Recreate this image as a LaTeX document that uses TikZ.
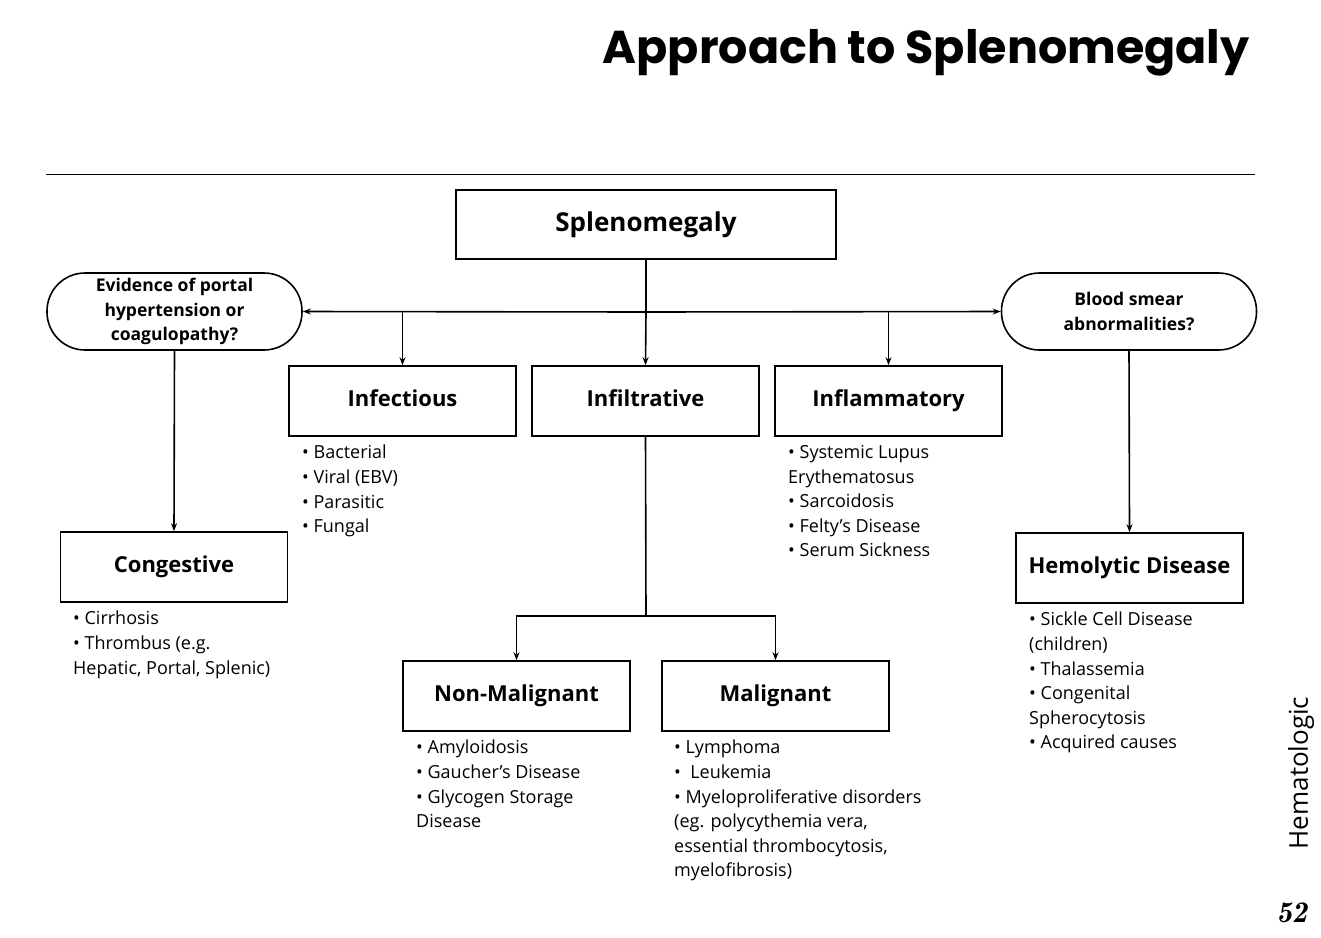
\documentclass[tikz,border=0pt]{standalone}
\usepackage{fontspec}
\setmainfont{Open Sans}
\newfontfamily\titlefont{Poppins}
\usetikzlibrary{arrows.meta,positioning}
\begin{document}
\begin{tikzpicture}[x=1pt,y=-1pt,
  box/.style={draw,line width=1.6pt,minimum width=227pt,minimum height=70pt,font=\fontsize{22}{26}\selectfont\bfseries,inner sep=0pt,text height=16pt,text depth=5pt},
  pill/.style={draw,line width=1.6pt,rounded corners=38pt,minimum width=255pt,minimum height=77pt,align=center,font=\fontsize{17.5}{24.5}\selectfont\bfseries,inner sep=0pt},
  lst/.style={anchor=north west,align=left,font=\fontsize{18}{24.6}\selectfont,inner sep=0pt},
  ln/.style={line width=1.6pt},
  arr/.style={ln,-{Stealth[length=8pt,width=6pt]}}]
\useasboundingbox (0,0) rectangle (1321,937);
\node[anchor=east,font=\titlefont\fontsize{46}{50}\selectfont\bfseries] (title) at (1253,53) {Approach to Splenomegaly};
\draw[line width=0.9pt] (46,174) -- (1255,174);
\node[box,minimum width=380pt,minimum height=69pt,font=\fontsize{26}{30}\selectfont\bfseries,text height=19pt,text depth=6pt] (spl) at (646,224.5) {Splenomegaly};
\node[pill] (lp) at (174.5,311.5) {Evidence of portal\\hypertension or\\coagulopathy?};
\node[pill] (rp) at (1129,311.5) {Blood smear\\abnormalities?};
\node[box] (inf) at (402.5,401) {Infectious};
\node[box] (ifl) at (645.5,401) {Infiltrative};
\node[box] (inm) at (888.5,401) {Inflammatory};
\node[box] (con) at (174,567) {Congestive};
\node[box] (hem) at (1129.5,568) {Hemolytic Disease};
\node[box] (nm) at (516.5,696) {Non-Malignant};
\node[box] (mal) at (775.5,696) {Malignant};
\coordinate (j) at (646,312);
\coordinate (j2) at (646,616);
\draw[ln] (spl.south) -- (j);
\draw[arr] (j) -- (lp.east);
\draw[arr] (j) -- (rp.west);
\draw[arr] (j) -- (ifl.north);
\draw[arr] (inf.north |- j) -- (inf.north);
\draw[arr] (inm.north |- j) -- (inm.north);
\draw[arr] (lp.south) -- (con.north);
\draw[arr] (rp.south) -- (hem.north);
\draw[ln] (ifl.south) -- (j2);
\draw[arr] (j2) -| (nm.north);
\draw[arr] (j2) -| (mal.north);
\node[lst] (l1) at (302,445) {• Bacterial\\• Viral (EBV)\\• Parasitic\\• Fungal};
\node[lst] (l2) at (788,445) {• Systemic Lupus\\Erythematosus\\• Sarcoidosis\\• Felty’s Disease\\• Serum Sickness};
\node[lst] (l3) at (73,611) {• Cirrhosis\\• Thrombus (e.g.\\Hepatic, Portal, Splenic)};
\node[lst] (l4) at (1029,612) {• Sickle Cell Disease\\(children)\\• Thalassemia\\• Congenital\\Spherocytosis\\• Acquired causes};
\node[lst] (l5) at (416,740) {• Amyloidosis\\• Gaucher’s Disease\\• Glycogen Storage\\Disease};
\node[lst] (l6) at (674,740) {• Lymphoma\\•\ \ Leukemia\\• Myeloproliferative disorders\\(eg. polycythemia vera,\\essential thrombocytosis,\\myelofibrosis)};
\node[rotate=90,font=\fontsize{26}{30}\selectfont] (hm) at (1301,773) {Hematologic};
\node[font=\fontfamily{lmr}\fontsize{30}{32}\selectfont\bfseries\itshape] (pg) at (1292,913) {52};
\end{tikzpicture}
\end{document}
